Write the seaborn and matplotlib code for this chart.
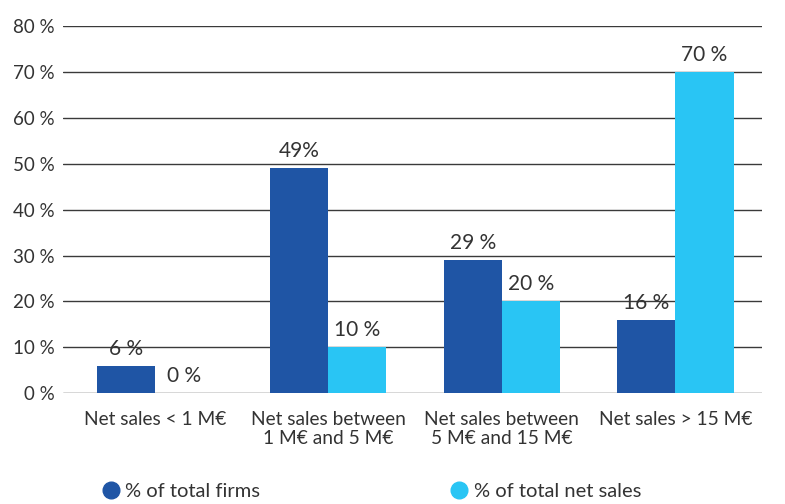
import matplotlib
matplotlib.use("Agg")
import matplotlib.pyplot as plt
import seaborn as sns
import pandas as pd
from matplotlib.lines import Line2D

categories = ["Net sales < 1 M€", "Net sales between\n1 M€ and 5 M€",
              "Net sales between\n5 M€ and 15 M€", "Net sales > 15 M€"]
series = ["% of total firms", "% of total net sales"]
firms = [6, 49, 29, 16]
net_sales = [0, 10, 20, 70]
firms_labels = ["6 %", "49%", "29 %", "16 %"]
sales_labels = ["0 %", "10 %", "20 %", "70 %"]
yticks = [0, 10, 20, 30, 40, 50, 60, 70, 80]

colors = ["#1F55A5", "#29C5F4"]
text_color = "#333333"

df = pd.DataFrame({
    "category": categories * 2,
    "series": [series[0]] * 4 + [series[1]] * 4,
    "value": firms + net_sales,
})

sns.set_theme(style="white")
plt.rcParams["font.family"] = ["Lato", "DejaVu Sans"]

fig = plt.figure(figsize=(7.85, 5.04), dpi=100)
ax = fig.add_axes([0.080, 0.220, 0.891, 0.728])

sns.barplot(data=df, x="category", y="value", hue="series", order=categories,
            hue_order=series, palette=colors, width=0.67, saturation=1,
            ax=ax, zorder=3, legend=False, linewidth=0, edgecolor="none")

for cont, labs in zip(ax.containers, [firms_labels, sales_labels]):
    ax.bar_label(cont, labels=labs, padding=5, fontsize=15, color=text_color)

ax.set_ylim(0, 80)
ax.set_xlim(-0.53, 3.5)
ax.set_yticks(yticks)
ax.set_yticklabels([f"{v} %" for v in yticks], fontsize=13.5, color=text_color)
ax.set_xticklabels(categories, fontsize=13.8, color=text_color, linespacing=1.1)
ax.tick_params(axis="y", length=0, pad=6)
ax.tick_params(axis="x", length=0, pad=13)
ax.set_xlabel("")
ax.set_ylabel("")
ax.yaxis.grid(True, color="#3a3a3a", linewidth=1.0, zorder=0)
ax.set_axisbelow(True)
for s in ax.spines.values():
    s.set_visible(False)

handles = [Line2D([0], [0], marker="o", linestyle="", markersize=12,
                  markerfacecolor=c, markeredgecolor=c) for c in colors]
fig.legend(handles, series, loc="center", bbox_to_anchor=(0.466, 0.025), ncol=2,
           frameon=False, fontsize=14.5, handletextpad=-0.28, columnspacing=8.9,
           labelcolor=text_color)

fig.savefig("out.png", dpi=100)
